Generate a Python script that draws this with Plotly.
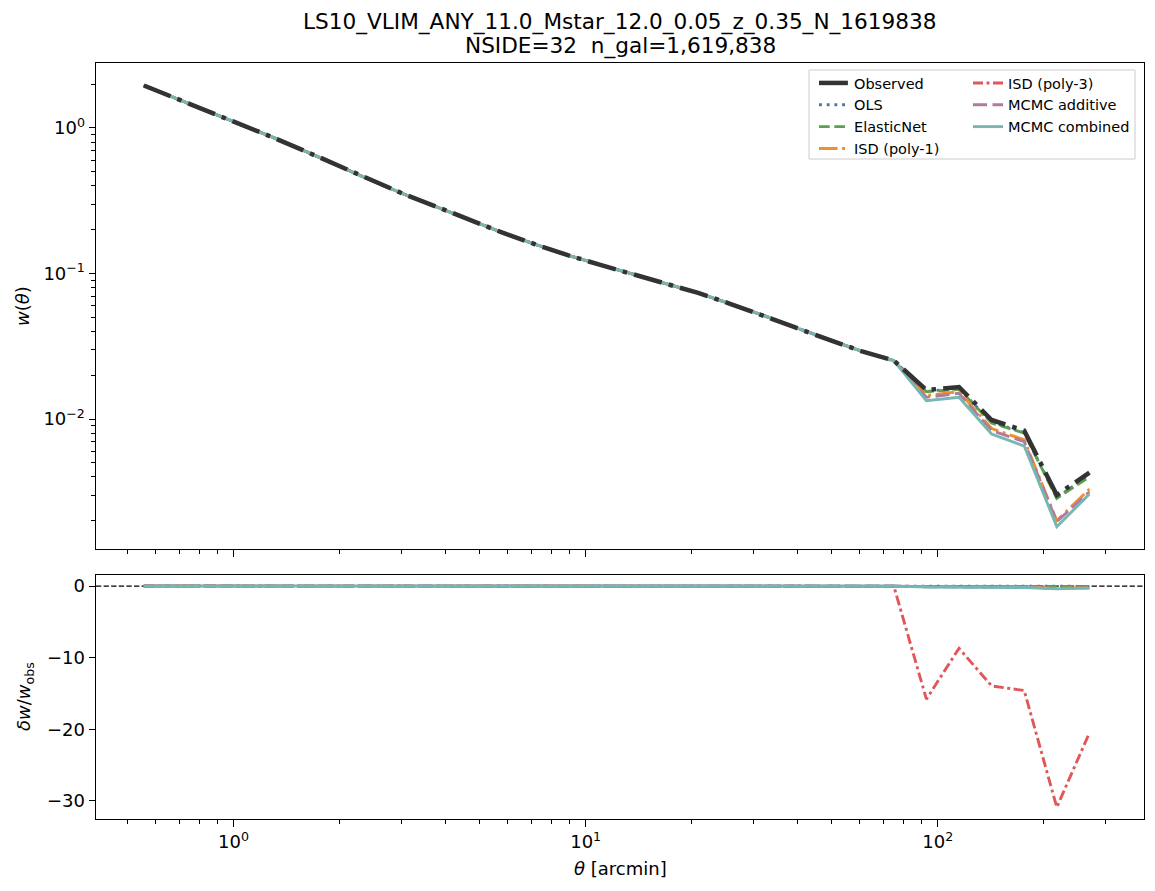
import numpy as np
import plotly.graph_objects as go

# ---------------- data ----------------
theta = [0.556, 0.689, 0.852, 1.054, 1.305, 1.615, 2.000, 2.475, 3.063, 3.790,
         4.692, 5.806, 7.187, 8.895, 11.01, 13.62, 16.86, 20.87, 25.83, 31.97,
         39.56, 48.97, 60.60, 75.01, 92.83, 114.9, 142.2, 176.0, 217.8, 269.6]

w_obs = [1.960, 1.595, 1.292, 1.054, 0.854, 0.685, 0.5437, 0.4337, 0.3491, 0.2864,
         0.2321, 0.1907, 0.1587, 0.1336, 0.1146, 0.0986, 0.0851, 0.0735, 0.0617, 0.0515,
         0.0424, 0.0351, 0.0293, 0.0252, 0.01582, 0.01659, 0.00984, 0.00831, 0.00300, 0.00428]

w_ols = [1.960, 1.595, 1.292, 1.054, 0.854, 0.685, 0.5437, 0.4337, 0.3491, 0.2864,
         0.2321, 0.1907, 0.1587, 0.1336, 0.1146, 0.0986, 0.0851, 0.0735, 0.0617, 0.0515,
         0.0424, 0.0351, 0.0293, 0.0252, 0.0155, 0.0162, 0.0095, 0.0081, 0.0029, 0.0041]

w_enet = [1.960, 1.595, 1.292, 1.054, 0.854, 0.685, 0.5437, 0.4337, 0.3491, 0.2864,
          0.2321, 0.1907, 0.1587, 0.1336, 0.1146, 0.0986, 0.0851, 0.0735, 0.0617, 0.0515,
          0.0424, 0.0351, 0.0293, 0.0252, 0.01541, 0.0160, 0.0094, 0.0080, 0.00285, 0.00401]

w_isd1 = [1.960, 1.595, 1.292, 1.054, 0.854, 0.685, 0.5437, 0.4337, 0.3491, 0.2864,
          0.2321, 0.1907, 0.1587, 0.1336, 0.1146, 0.0986, 0.0851, 0.0735, 0.0617, 0.0515,
          0.0424, 0.0351, 0.0293, 0.0252, 0.0145, 0.0154, 0.0086, 0.0072, 0.0020, 0.0033]

w_isd3 = [1.960, 1.595, 1.292, 1.054, 0.854, 0.685, 0.5437, 0.4337, 0.3491, 0.2864,
          0.2321, 0.1907, 0.1587, 0.1336, 0.1146, 0.0986, 0.0851, 0.0735, 0.0617, 0.0515,
          0.0424, 0.0351, 0.0293, 0.0250, -0.2341, -0.1277, -0.1274, -0.1130, -0.0897, -0.0835]

w_mcmc_add = [1.960, 1.595, 1.292, 1.054, 0.854, 0.685, 0.5437, 0.4337, 0.3491, 0.2864,
              0.2321, 0.1907, 0.1587, 0.1336, 0.1146, 0.0986, 0.0851, 0.0735, 0.0617, 0.0515,
              0.0424, 0.0351, 0.0293, 0.0252, 0.01409, 0.01502, 0.00831, 0.00698, 0.00197, 0.00316]

w_mcmc_comb = [1.960, 1.595, 1.292, 1.054, 0.854, 0.685, 0.5437, 0.4337, 0.3491, 0.2864,
               0.2321, 0.1907, 0.1587, 0.1336, 0.1146, 0.0986, 0.0851, 0.0735, 0.0617, 0.0515,
               0.0424, 0.0351, 0.0293, 0.0252, 0.01336, 0.01409, 0.00788, 0.00652, 0.00182, 0.00305]

title_line1 = "LS10_VLIM_ANY_11.0_Mstar_12.0_0.05_z_0.35_N_1619838"
title_line2 = "NSIDE=32\u00a0 n_gal=1,619,838"

x_major = [1, 10, 100]
x_major_text = ["10<sup>0</sup>", "10<sup>1</sup>", "10<sup>2</sup>"]
x_minor = [0.5, 0.6, 0.7, 0.8, 0.9, 2, 3, 4, 5, 6, 7, 8, 9,
           20, 30, 40, 50, 60, 70, 80, 90, 200, 300]
y_major = [0.01, 0.1, 1]
y_major_text = ["10<sup>−2</sup>", "10<sup>−1</sup>", "10<sup>0</sup>"]
y_minor = [0.002, 0.003, 0.004, 0.005, 0.006, 0.007, 0.008, 0.009,
           0.02, 0.03, 0.04, 0.05, 0.06, 0.07, 0.08, 0.09,
           0.2, 0.3, 0.4, 0.5, 0.6, 0.7, 0.8, 0.9, 2]
y2_major = [0, -10, -20, -30]
y2_major_text = ["0", "−10", "−20", "−30"]

# --------------- series styling ---------------
models = [
    ("OLS", w_ols, "#4e79a7", "2.9px,4.8px", "legend", 2),
    ("ElasticNet", w_enet, "#59a14f", "10.7px,4.6px", "legend", 3),
    ("ISD (poly-1)", w_isd1, "#f28e2b", "18.5px,4.6px,2.9px,4.6px", "legend", 4),
    ("ISD (poly-3)", w_isd3, "#e15759", "10px,3.5px,3px,3.5px", "legend2", 1),
    ("MCMC additive", w_mcmc_add, "#b07aa1", "14px,5.5px", "legend2", 2),
    ("MCMC combined", w_mcmc_comb, "#76b7b2", "solid", "legend2", 3),
]

FONT = "DejaVu Sans"
fig = go.Figure()

obs = np.array(w_obs)
for name, w, color, dash, leg, rank in models:
    w = np.array(w, dtype=float)
    wtop = np.where(w > 0, w, np.nan)
    fig.add_trace(go.Scatter(x=theta, y=wtop, mode="lines", name=name,
                             line=dict(color=color, width=2.9, dash=dash),
                             xaxis="x", yaxis="y", legend=leg, legendrank=rank,
                             connectgaps=False))
for name, w, color, dash, leg, rank in models:
    w = np.array(w, dtype=float)
    dw = (w - obs) / obs
    fig.add_trace(go.Scatter(x=theta, y=dw, mode="lines", name=name,
                             line=dict(color=color, width=2.9, dash=dash),
                             xaxis="x2", yaxis="y2", showlegend=False))

fig.add_trace(go.Scatter(x=theta, y=w_obs, mode="lines", name="Observed",
                         line=dict(color="#333333", width=4.5, dash="28.9px,7.2px,4.5px,7.2px"),
                         xaxis="x", yaxis="y", legend="legend", legendrank=1))

W, H = 1155, 891
L, R, T, B = 96, 11, 63, 72
PW, PH = W - L - R, H - T - B


def px(xp):
    return (xp - L) / PW


def py(yp):
    return (H - B - yp) / PH


axis_common = dict(showline=True, linecolor="black", linewidth=1.4, mirror=True,
                   ticks="outside", ticklen=6.3, tickwidth=1.4, tickcolor="black",
                   showgrid=False, zeroline=False,
                   tickfont=dict(family=FONT, size=18, color="black"))
minor_common = dict(ticks="outside", ticklen=3.6, tickwidth=1.1, tickcolor="black", showgrid=False)

xrange_log = [-0.3907, 2.5857]
fig.update_layout(
    width=W, height=H, margin=dict(l=L, r=R, t=T, b=B),
    plot_bgcolor="white", paper_bgcolor="white",
    font=dict(family=FONT, color="black"),
    xaxis=dict(axis_common, type="log", range=xrange_log, domain=[0, 1], anchor="y",
               tickvals=x_major, ticktext=x_major_text, showticklabels=False,
               minor=dict(minor_common, tickvals=x_minor)),
    yaxis=dict(axis_common, type="log", range=[-2.8935, 0.4467], domain=[py(549), 1], anchor="x",
               tickvals=y_major, ticktext=y_major_text,
               minor=dict(minor_common, tickvals=y_minor)),
    xaxis2=dict(axis_common, type="log", range=xrange_log, domain=[0, 1], anchor="y2",
                matches="x", tickvals=x_major, ticktext=x_major_text,
                minor=dict(minor_common, tickvals=x_minor)),
    yaxis2=dict(axis_common, range=[-32.54, 1.54], domain=[0, py(575)], anchor="x2",
                tickvals=y2_major, ticktext=y2_major_text),
    legend=dict(x=px(814), y=py(67), xanchor="left", yanchor="top",
                bgcolor="rgba(0,0,0,0)", borderwidth=0,
                font=dict(family=FONT, size=14.5, color="black"), tracegroupgap=0),
    legend2=dict(x=px(968), y=py(67), xanchor="left", yanchor="top",
                 bgcolor="rgba(0,0,0,0)", borderwidth=0,
                 font=dict(family=FONT, size=14.5, color="black"), tracegroupgap=0),
    showlegend=True,
)

# legend frame
fig.add_shape(type="rect", xref="paper", yref="paper",
              x0=px(809), x1=px(1135), y0=py(159), y1=py(70),
              line=dict(color="#cccccc", width=1), fillcolor="rgba(255,255,255,0.8)",
              layer="above")
# zero reference line in residual panel
fig.add_shape(type="line", xref="x2 domain", yref="y2", x0=0, x1=1, y0=0, y1=0,
              line=dict(color="black", width=1.3, dash="5.3px,2.3px"), layer="below")

# titles and axis labels
fig.add_annotation(text=title_line1, xref="paper", yref="paper", x=0.5, y=py(22),
                   showarrow=False, xanchor="center", yanchor="middle",
                   font=dict(family=FONT, size=21.6, color="black"))
fig.add_annotation(text=title_line2, xref="paper", yref="paper", x=0.5, y=py(46),
                   showarrow=False, xanchor="center", yanchor="middle",
                   font=dict(family=FONT, size=21.6, color="black"))
fig.add_annotation(text="<i>w</i>(<i>θ</i>)", xref="paper", yref="paper",
                   x=px(22), y=py(306), textangle=-90, showarrow=False,
                   xanchor="center", yanchor="middle",
                   font=dict(family=FONT, size=18, color="black"))
fig.add_annotation(text="<i>δw</i>/<i>w</i><sub>obs</sub>", xref="paper", yref="paper",
                   x=px(25), y=py(697), textangle=-90, showarrow=False,
                   xanchor="center", yanchor="middle",
                   font=dict(family=FONT, size=18, color="black"))
fig.add_annotation(text="<i>θ</i> [arcmin]", xref="paper", yref="paper",
                   x=0.5, y=py(868), showarrow=False, xanchor="center", yanchor="middle",
                   font=dict(family=FONT, size=18, color="black"))

fig.write_html("out.html")
